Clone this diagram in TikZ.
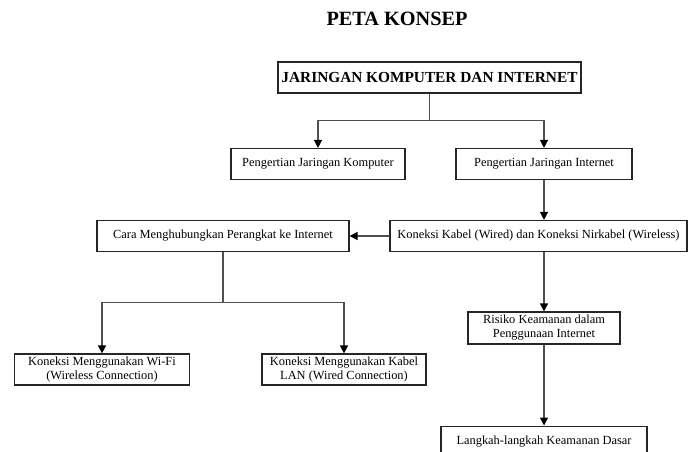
\documentclass[tikz,border=0pt]{standalone}
\usepackage{fontspec}
\setmainfont{Liberation Serif}
\usetikzlibrary{arrows.meta}
\definecolor{linec}{HTML}{505050}
\begin{document}
\begin{tikzpicture}[x=0.75pt,y=-0.75pt,
  box/.style={draw=black!85,line width=0.9pt,rectangle,inner sep=0pt,align=center,font=\fontsize{9.3}{10.5}\selectfont},
  conn/.style={draw=linec,line width=1.1pt,-{Triangle[length=6pt,width=6pt,fill=black,color=black]}},
  plain/.style={draw=linec,line width=1.1pt}]
\useasboundingbox (0,0) rectangle (688,452);
\clip (0,0) rectangle (688,452);
\node[font=\fontsize{15.2}{17}\selectfont\bfseries] (title) at (397,19) {PETA KONSEP};
\node[box,minimum width=303*0.75pt,minimum height=31*0.75pt,font=\fontsize{11.5}{13}\selectfont\bfseries] (main) at (429.5,77.5) {JARINGAN KOMPUTER DAN INTERNET};
\node[box,minimum width=174*0.75pt,minimum height=31*0.75pt] (pjk) at (318,164) {Pengertian Jaringan Komputer};
\node[box,minimum width=176*0.75pt,minimum height=31*0.75pt] (pji) at (544,164) {Pengertian Jaringan Internet};
\node[box,minimum width=297*0.75pt,minimum height=31*0.75pt] (kon) at (538.5,236) {Koneksi Kabel (Wired) dan Koneksi Nirkabel (Wireless)};
\node[box,minimum width=252*0.75pt,minimum height=31*0.75pt] (cara) at (223,236) {Cara Menghubungkan Perangkat ke Internet};
\node[box,minimum width=175*0.75pt,minimum height=31*0.75pt] (wifi) at (102,369.5) {Koneksi Menggunakan Wi-Fi\\(Wireless Connection)};
\node[box,minimum width=164*0.75pt,minimum height=31*0.75pt] (lan) at (344,369.5) {Koneksi Menggunakan Kabel\\LAN (Wired Connection)};
\node[box,minimum width=152*0.75pt,minimum height=32*0.75pt] (ris) at (544,328) {Risiko Keamanan dalam\\Penggunaan Internet};
\node[box,minimum width=206*0.75pt,minimum height=31*0.75pt,anchor=north] (lang) at (544,425.5) {Langkah-langkah Keamanan Dasar};
\coordinate (m1) at (429.5,120.5);
\coordinate (c1) at (223,302.5);
\draw[plain] (main.south) -- (m1);
\draw[conn] (m1) -| (pjk.north);
\draw[conn] (m1) -| (pji.north);
\draw[conn] (pji.south) -- (pji.south |- kon.north);
\draw[conn] (kon.west) -- (cara.east);
\draw[plain] (cara.south) -- (c1);
\draw[conn] (c1) -| (wifi.north);
\draw[conn] (c1) -| (lan.north);
\draw[conn] (ris.north |- kon.south) -- (ris.north);
\draw[conn] (ris.south) -- (lang.north);
\end{tikzpicture}
\end{document}
